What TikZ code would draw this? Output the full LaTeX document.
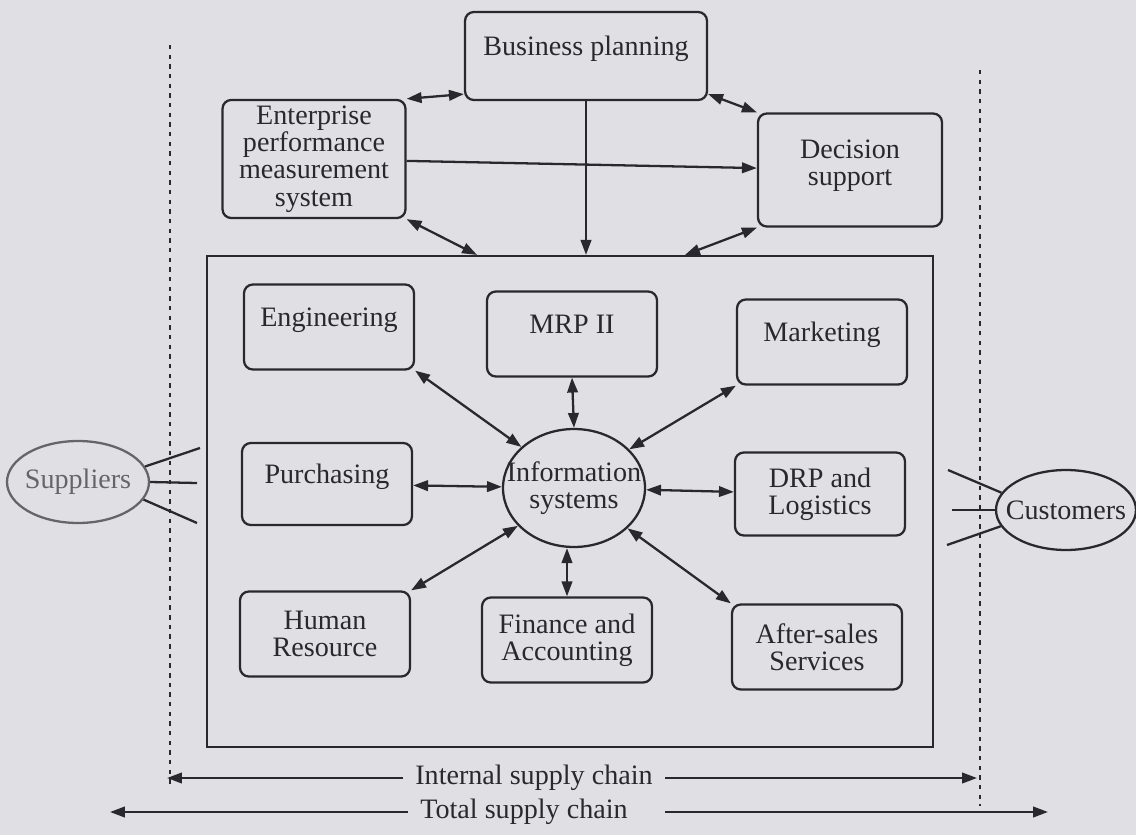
\documentclass[tikz,border=0pt]{standalone}
\usepackage{fontspec}
\setmainfont{Liberation Serif}
\usetikzlibrary{arrows.meta,shapes.geometric}
\definecolor{paper}{RGB}{224,224,228}
\definecolor{ink}{RGB}{40,40,46}
\definecolor{faint}{RGB}{100,100,106}
\tikzset{
    module/.style={
        draw=ink,line width=1.3pt,rounded corners=5pt,
        minimum width=3.4cm,minimum height=1.7cm,
        align=center,text=ink,
        font=\fontsize{16pt}{15.5pt}\selectfont
    },
    raised/.style={text depth=0.4cm},
    hub/.style={ellipse,draw=ink,line width=1.3pt,inner sep=0pt},
    hub text/.style={align=center,text=ink,inner sep=0pt,
        font=\fontsize{16pt}{15.5pt}\selectfont},
    chain text/.style={text=ink,inner sep=7pt,
        font=\fontsize{16pt}{15.5pt}\selectfont},
    >={Triangle[length=8.5pt,width=6pt]},
    link/.style={draw=ink,line width=1.3pt,<->},
    flow/.style={draw=ink,line width=1.3pt,->},
    ray/.style={draw=ink,line width=1.3pt},
    boundary/.style={draw=ink,line width=1.6pt,dash pattern=on 2.5pt off 3pt},
}

\begin{document}
\begin{tikzpicture}[x=0.02cm,y=-0.02cm]
    \fill[paper] (0,0) rectangle (1136,835);
    \useasboundingbox (0,0) rectangle (1136,835);
    % supply chain borders
    \draw[boundary] (170,45) -- (170,788);
    \draw[boundary] (980,70) -- (980,806);
    % planning layer
    \node[module,raised,minimum width=4.84cm,minimum height=1.76cm] (bp) at (586,56) {Business planning};
    \node[module,minimum width=3.66cm,minimum height=2.32cm] (epm) at (314,159) {Enterprise\\performance\\measurement\\system};
    \node[module,text depth=0.3cm,minimum width=3.68cm,minimum height=2.26cm] (ds) at (850,170) {Decision\\support};
    \node[draw=ink,line width=1.3pt,minimum width=14.52cm,minimum height=9.82cm] (core) at (570,501.5) {};
    \draw[link] (epm.north east) -- ([yshift=4pt]bp.south west);
    \draw[link] ([yshift=4pt]bp.south east) -- (ds.north west);
    \draw[flow] (epm) -- (ds);
    \draw[flow] (bp.south) -- (bp.south |- core.north);
    \draw[link] (epm.south east) -- ([xshift=-1.86cm]core.north);
    \draw[link] (ds.south west) -- ([xshift=2.3cm]core.north);
    % functions round the information systems
    \node[hub,minimum width=2.84cm,minimum height=2.36cm,
        label={[hub text]center:Information\\systems}] (info) at (574,488) {};
    \node[module,raised] (eng) at (329,327) {Engineering};
    \node[module,raised] (mrp) at (572,334) {MRP II};
    \node[module,raised] (mkt) at (822,342) {Marketing};
    \node[module,raised,minimum height=1.64cm] (pur) at (327,484) {Purchasing};
    \node[module,minimum height=1.66cm] (drp) at (820,494) {DRP and\\Logistics};
    \node[module] (hr) at (325,634) {Human\\Resource};
    \node[module] (fin) at (567,640) {Finance and\\Accounting};
    \node[module] (aft) at (817,647) {After-sales\\Services};
    \foreach \a/\b in {eng.south east/info.142,mrp.south/info.north,mkt.south west/info.35,
        pur/info,info/drp,hr.north east/info.214,aft.north west/info.323}
        \draw[link] (\a) -- (\b);
    \draw[link] (info.south -| fin.north) -- (fin.north);
    % suppliers and customers
    \node[hub,draw=faint,minimum width=2.84cm,minimum height=1.64cm,
        label={[hub text,text=faint]center:Suppliers}] (sup) at (78,482) {};
    \node[hub,minimum width=2.8cm,minimum height=1.6cm,
        label={[hub text]center:Customers}] (cus) at (1066,510) {};
    \coordinate (s1) at (200,448);
    \coordinate (s2) at (197,483);
    \coordinate (s3) at (197,523);
    \coordinate (c1) at (948,470);
    \coordinate (c2) at (952,510);
    \coordinate (c3) at (947,545);
    \foreach \ang/\tip in {13/s1,0/s2,-15/s3}
        \draw[ray] (sup.\ang) -- (\tip);
    \foreach \ang/\tip in {165/c1,180/c2,194/c3}
        \draw[ray] (cus.\ang) -- (\tip);
    % supply chain spans
    \node[chain text] (intl) at (534,778) {Internal supply chain};
    \node[chain text] (total) at (524,812) {Total supply chain};
    \coordinate (il) at (167,778);
    \coordinate (ir) at (977,778);
    \coordinate (tl) at (110,812);
    \coordinate (tr) at (1048,812);
    \draw[flow] (intl.west) -- (il);
    \draw[flow] (intl.east) -- (ir);
    \draw[flow] (total.west) -- (tl);
    \draw[flow] ([xshift=0.5cm]total.east) -- (tr);
\end{tikzpicture}
\end{document}
